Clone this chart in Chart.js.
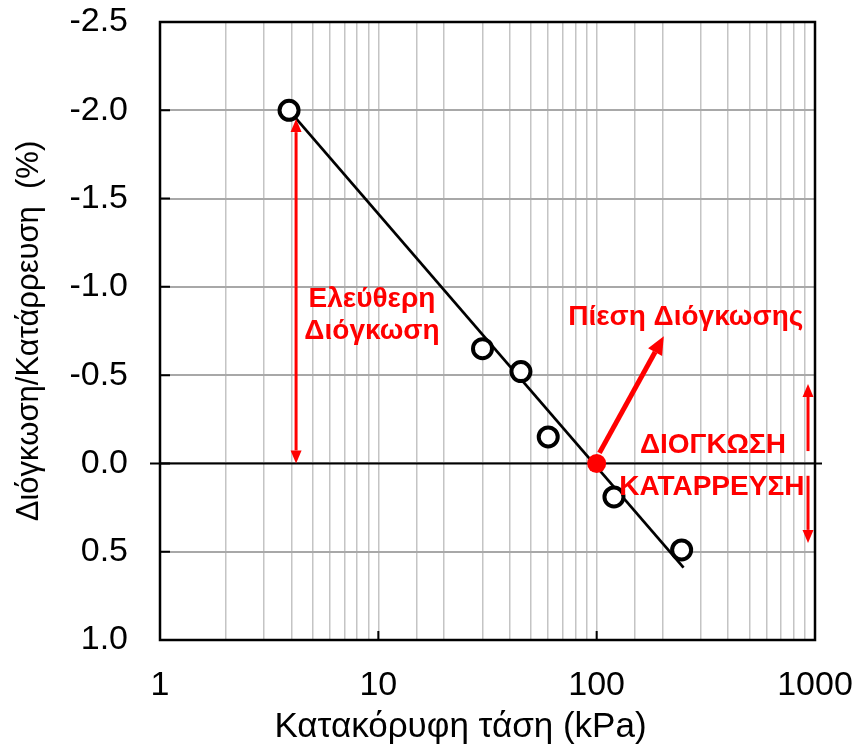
<!DOCTYPE html>
<html>
<head>
<meta charset="utf-8">
<script src="https://cdn.jsdelivr.net/npm/chart.js@4.4.1/dist/chart.umd.min.js"></script>
<style>
  html, body { margin: 0; padding: 0; background: #ffffff; }
  canvas { display: block; }
</style>
</head>
<body>
<canvas id="c" width="862" height="753"></canvas>
<script>
// Oedometer swell test: vertical stress vs swell/collapse strain
const stressKPa = [3.9, 30, 45, 60, 120, 245];
const strainPct = [-2.0, -0.65, -0.52, -0.15, 0.19, 0.49];

// fitted straight line (log-linear)
const fitStress = [3.9, 250];
const fitStrain = [-2.0, 0.59];

// swell pressure (strain = 0)
const swellStress = [100];
const swellStrain = [0];

// axis tick labels
const xDecades = [1, 10, 100, 1000];
const yTickValues = [-2.5, -2.0, -1.5, -1.0, -0.5, 0.0, 0.5, 1.0];

const FONT = "'Liberation Sans', Arial, sans-serif";
const RED = '#ff0000';
const X_TITLE = 'Κατακόρυφη τάση (kPa)';

// red annotations, given in data units
const arrows = [
  { from: [103, -0.06], to: [203, -0.72], width: 5, head: 18, headW: 16 },
  { from: [4.2, -1.0], to: [4.2, -1.95], width: 3, head: 13, headW: 11 },
  { from: [4.2, -1.0], to: [4.2, 0.0], width: 3, head: 13, headW: 11 },
  { from: [929, -0.07], to: [929, -0.45], width: 3, head: 13, headW: 11 },
  { from: [929, 0.07], to: [929, 0.45], width: 3, head: 13, headW: 11 }
];
const notes = [
  { text: 'Πίεση Διόγκωσης', at: [256, -0.83] },
  { text: 'Ελεύθερη', at: [9.35, -0.93] },
  { text: 'Διόγκωση', at: [9.35, -0.75] },
  { text: 'ΔΙΟΓΚΩΣΗ', at: [341, -0.10] },
  { text: 'ΚΑΤΑΡΡΕΥΣΗ', at: [337, 0.135] }
];

// keep the plot area fixed: ignore the extra room the scales ask for their edge labels
const noEdgePadding = s => {
  s.paddingLeft = 0; s.paddingRight = 0; s.paddingTop = 0; s.paddingBottom = 0;
};

const frame = {
  id: 'frame',
  beforeDatasetsDraw(chart) {
    const { ctx, chartArea: a, scales: { y } } = chart;
    ctx.save();
    // zero line
    const y0 = y.getPixelForValue(0);
    ctx.strokeStyle = '#000';
    ctx.lineWidth = 2;
    ctx.beginPath();
    ctx.moveTo(a.left - 10, y0);
    ctx.lineTo(a.right + 7, y0);
    ctx.stroke();
    ctx.restore();
  },
  afterDatasetsDraw(chart) {
    const { ctx, chartArea: a, scales: { x, y } } = chart;
    ctx.save();
    // plot frame
    ctx.strokeStyle = '#000';
    ctx.lineWidth = 2.5;
    ctx.strokeRect(a.left, a.top, a.right - a.left, a.bottom - a.top);
    // inner tick marks
    ctx.lineWidth = 2;
    ctx.beginPath();
    yTickValues.forEach(v => {
      const p = y.getPixelForValue(v);
      ctx.moveTo(a.left, p);
      ctx.lineTo(a.left + 10, p);
    });
    xDecades.forEach(v => {
      const p = x.getPixelForValue(v);
      ctx.moveTo(p, a.bottom);
      ctx.lineTo(p, a.bottom - 9);
    });
    ctx.stroke();

    // x axis title
    ctx.fillStyle = '#000';
    ctx.font = '35px ' + FONT;
    ctx.textAlign = 'center';
    ctx.textBaseline = 'middle';
    ctx.fillText(X_TITLE, (a.left + a.right) / 2 - 27, a.bottom + 87);

    // arrows
    ctx.strokeStyle = RED;
    ctx.fillStyle = RED;
    arrows.forEach(ar => {
      const x1 = x.getPixelForValue(ar.from[0]), y1 = y.getPixelForValue(ar.from[1]);
      const x2 = x.getPixelForValue(ar.to[0]), y2 = y.getPixelForValue(ar.to[1]);
      const ang = Math.atan2(y2 - y1, x2 - x1);
      const bx = x2 - ar.head * Math.cos(ang), by = y2 - ar.head * Math.sin(ang);
      ctx.lineWidth = ar.width;
      ctx.beginPath();
      ctx.moveTo(x1, y1);
      ctx.lineTo(bx, by);
      ctx.stroke();
      const nx = -Math.sin(ang) * ar.headW / 2, ny = Math.cos(ang) * ar.headW / 2;
      ctx.beginPath();
      ctx.moveTo(x2, y2);
      ctx.lineTo(bx + nx, by + ny);
      ctx.lineTo(bx - nx, by - ny);
      ctx.closePath();
      ctx.fill();
    });

    // labels
    ctx.font = 'bold 28px ' + FONT;
    notes.forEach(n => {
      ctx.fillText(n.text, x.getPixelForValue(n.at[0]), y.getPixelForValue(n.at[1]));
    });
    ctx.restore();
  }
};

new Chart(document.getElementById('c'), {
  type: 'scatter',
  data: {
    datasets: [
      {
        label: 'Πίεση Διόγκωσης',
        data: swellStress.map((v, i) => ({ x: v, y: swellStrain[i] })),
        pointRadius: 9.5,
        pointBackgroundColor: RED,
        pointBorderColor: RED,
        pointBorderWidth: 0,
        showLine: false
      },
      {
        label: 'Μετρήσεις',
        data: stressKPa.map((v, i) => ({ x: v, y: strainPct[i] })),
        pointRadius: 9.5,
        pointBorderWidth: 4,
        pointBorderColor: '#000',
        pointBackgroundColor: '#ffffff',
        showLine: false
      },
      {
        label: 'Γραμμή',
        data: fitStress.map((v, i) => ({ x: v, y: fitStrain[i] })),
        showLine: true,
        borderColor: '#000',
        borderWidth: 2.75,
        pointRadius: 0
      }
    ]
  },
  options: {
    responsive: false,
    animation: false,
    events: [],
    layout: { padding: { top: 22, right: 47, left: 0, bottom: 0 } },
    plugins: { legend: { display: false }, tooltip: { enabled: false } },
    scales: {
      x: {
        type: 'logarithmic',
        min: 1,
        max: 1000,
        border: { display: false },
        grid: { color: '#c4c4c4', lineWidth: 1.5, drawTicks: false },
        ticks: {
          autoSkip: false,
          maxRotation: 0,
          padding: 25,
          color: '#000',
          font: { family: FONT, size: 34 },
          callback: v => xDecades.includes(v) ? String(v) : ''
        },
        afterFit: s => { s.height = 113; noEdgePadding(s); }
      },
      y: {
        reverse: true,
        min: -2.5,
        max: 1.0,
        border: { display: false },
        grid: { color: '#a8a8a8', lineWidth: 2, drawTicks: false },
        ticks: {
          stepSize: 0.5,
          padding: 32,
          color: '#000',
          font: { family: FONT, size: 34 },
          callback: v => Number(v).toFixed(1)
        },
        title: {
          display: true,
          text: 'Διόγκωση/Κατάρρευση  (%)',
          color: '#000',
          font: { family: FONT, size: 31 },
          padding: { top: 10.5, bottom: 0 }
        },
        afterFit: s => { s.width = 160; noEdgePadding(s); }
      }
    }
  },
  plugins: [frame]
});
</script>
</body>
</html>
